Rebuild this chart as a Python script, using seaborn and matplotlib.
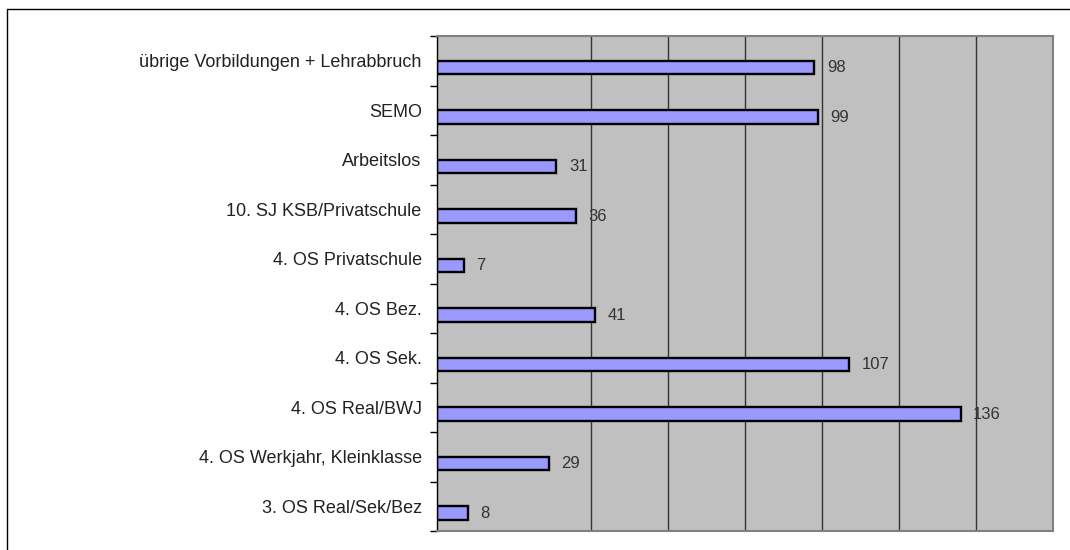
import pandas as pd
import seaborn as sns
import matplotlib.pyplot as plt
from matplotlib.lines import Line2D

# Daten (von oben nach unten)
kategorien = [
    "übrige Vorbildungen + Lehrabbruch",
    "SEMO",
    "Arbeitslos",
    "10. SJ KSB/Privatschule",
    "4. OS Privatschule",
    "4. OS Bez.",
    "4. OS Sek.",
    "4. OS Real/BWJ",
    "4. OS Werkjahr, Kleinklasse",
    "3. OS Real/Sek/Bez",
]
anzahl = [98, 99, 31, 36, 7, 41, 107, 136, 29, 8]
gitter = [40, 60, 80, 100, 120, 140]

df = pd.DataFrame({"kategorie": kategorien, "anzahl": anzahl, "serie": "Anzahl"})

sns.set_style("white")
plt.rcParams['font.family'] = ['Liberation Sans', 'DejaVu Sans']

fig = plt.figure(figsize=(10.7, 5.5), dpi=100)
ax = fig.add_axes([0.4084, 0.0345, 0.5757, 0.9])
ax.set_facecolor("#C0C0C0")

# leere erste Serie reserviert Platz, damit die Balken wie im Excel-Diagramm versetzt sind
sns.barplot(data=df, y="kategorie", x="anzahl", hue="serie", hue_order=["leer", "Anzahl"],
            order=kategorien, orient="h", width=0.55, dodge=True, saturation=1,
            palette={"leer": "#9999FF", "Anzahl": "#9999FF"},
            edgecolor="black", linewidth=1.7, legend=False, ax=ax)

for c in ax.containers:
    ax.bar_label(c, padding=9, fontsize=12, color="#333333")

ax.set_xlim(0, 160)
ax.set_ylim(len(kategorien) - 0.5, -0.5)
ax.set_xticks(gitter)
ax.set_xticklabels([])
ax.grid(axis="x", color="#333333", linewidth=1)
ax.set_axisbelow(True)
ax.tick_params(axis="x", length=0)

ax.set_yticks(range(len(kategorien)))
ax.set_yticklabels(kategorien, fontsize=13, color="#222222")
ax.tick_params(axis="y", which="major", length=0, pad=11)
ax.set_yticks([i - 0.5 for i in range(len(kategorien) + 1)], minor=True)
ax.tick_params(axis="y", which="minor", length=5, width=1, color="black", direction="out", left=True)
ax.set_xlabel("")
ax.set_ylabel("")

for s in ["top", "right", "bottom"]:
    ax.spines[s].set_color("#808080")
    ax.spines[s].set_linewidth(1.5)
ax.spines["left"].set_color("black")
ax.spines["left"].set_linewidth(1)

# Rahmenlinien oben und links
fig.add_artist(Line2D([7 / 1070, 1], [1 - 9 / 550, 1 - 9 / 550], color="black", linewidth=1))
fig.add_artist(Line2D([7 / 1070, 7 / 1070], [0, 1 - 9 / 550], color="black", linewidth=1))

plt.savefig("out.png", dpi=100)
plt.close()
